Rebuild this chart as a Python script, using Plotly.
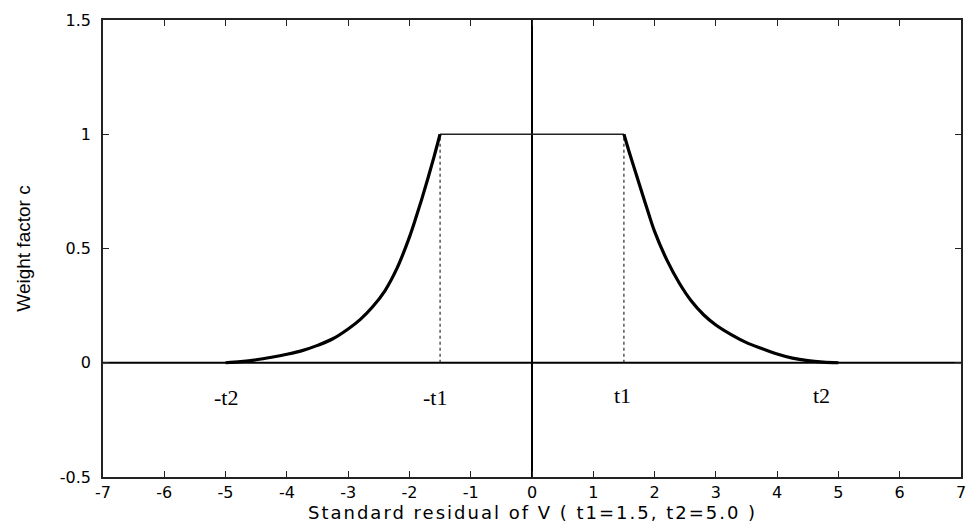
import plotly.graph_objects as go

# Thresholds of the weight function
t1 = 1.5
t2 = 5.0

# Weight factor c read along the descending branch (v > t1)
v_right = [1.5, 1.6, 1.7, 1.8, 1.9, 2.0, 2.2, 2.4, 2.6, 2.8, 3.0, 3.25, 3.5, 3.75, 4.0, 4.25, 4.5, 4.75, 5.0]
c_right = [1.0, 0.91, 0.825, 0.74, 0.655, 0.575, 0.45, 0.35, 0.27, 0.21, 0.165, 0.123, 0.088, 0.062, 0.038, 0.02, 0.009, 0.003, 0.0]

# Weight factor c along the rising branch (v < -t1)
v_left = [-5.0, -4.75, -4.5, -4.25, -4.0, -3.75, -3.5, -3.25, -3.0, -2.8, -2.6, -2.4, -2.2, -2.0, -1.9, -1.8, -1.7, -1.6, -1.5]
c_left = [0.0, 0.005, 0.013, 0.024, 0.037, 0.053, 0.076, 0.105, 0.148, 0.19, 0.245, 0.315, 0.415, 0.55, 0.63, 0.715, 0.805, 0.9, 1.0]

# Axis extents and ticks
x_range = [-7, 7]
y_range = [-0.5, 1.5]
x_ticks = [-7, -6, -5, -4, -3, -2, -1, 0, 1, 2, 3, 4, 5, 6, 7]
x_tick_text = ["-7", "-6", "-5", "-4", "-3", "-2", "-1", "0", "1", "2", "3", "4", "5", "6", "7"]
y_ticks = [-0.5, 0, 0.5, 1, 1.5]
y_tick_text = ["-0.5", "0", "0.5", "1", "1.5"]

# Threshold markers drawn under the zero line
mark_text = ["-t2", "-t1", "t1", "t2"]
mark_x = [-5.0, -1.575, 1.47, 4.73]
mark_y = [-0.15, -0.15, -0.145, -0.145]

fig = go.Figure()

# Zero line and the vertical c-axis through the origin
fig.add_trace(go.Scatter(x=x_range, y=[0, 0], mode="lines",
                         line=dict(color="black", width=2), hoverinfo="skip"))
fig.add_trace(go.Scatter(x=[0, 0], y=y_range, mode="lines",
                         line=dict(color="black", width=2), hoverinfo="skip"))

# Dotted verticals at -t1 and t1
for xv in (-t1, t1):
    fig.add_trace(go.Scatter(x=[xv, xv], y=[0, 1], mode="lines",
                             line=dict(color="black", width=1, dash="dot"),
                             hoverinfo="skip"))

# Flat part c = 1 between -t1 and t1
fig.add_trace(go.Scatter(x=[-t1, t1], y=[1, 1], mode="lines",
                         line=dict(color="#222222", width=1.4)))

# Decaying branches
fig.add_trace(go.Scatter(x=v_left, y=c_left, mode="lines",
                         line=dict(color="black", width=3.2, shape="spline", smoothing=1.0)))
fig.add_trace(go.Scatter(x=v_right, y=c_right, mode="lines",
                         line=dict(color="black", width=3.2, shape="spline", smoothing=1.0)))

for txt, xv, yv in zip(mark_text, mark_x, mark_y):
    fig.add_annotation(x=xv, y=yv, text=txt, showarrow=False,
                       xanchor="center", yanchor="middle",
                       font=dict(family="Liberation Serif", size=22, color="black"))

# Axis titles placed in paper coordinates below / left of the frame
fig.add_annotation(x=0.5, y=-0.078, xref="paper", yref="paper",
                   text='<span style="letter-spacing:2px">Standard residual of V ( t1=1.5, t2=5.0 )</span>',
                   showarrow=False, xanchor="center", yanchor="middle",
                   font=dict(family="DejaVu Sans", size=18, color="black"))
fig.add_annotation(x=-0.093, y=0.5, xref="paper", yref="paper",
                   text="Weight factor c", textangle=-90,
                   showarrow=False, xanchor="center", yanchor="middle",
                   font=dict(family="Liberation Sans", size=19, color="black"))

axis_common = dict(
    showgrid=False, zeroline=False, showline=True, mirror="allticks",
    linecolor="#222222", linewidth=1.5,
    ticks="inside", ticklen=6, tickwidth=1, tickcolor="#222222",
    tickfont=dict(family="DejaVu Sans", size=16, color="black"),
)

fig.update_xaxes(range=x_range, tickmode="array", tickvals=x_ticks,
                 ticktext=x_tick_text, ticklabelstandoff=0,
                 ticklabeloverflow="allow", **axis_common)
fig.update_yaxes(range=y_range, tickmode="array", tickvals=y_ticks,
                 ticktext=y_tick_text, ticklabelstandoff=7,
                 ticklabeloverflow="allow", **axis_common)

fig.update_layout(
    width=969, height=525,
    margin=dict(l=103, r=3, t=20, b=48),
    paper_bgcolor="white", plot_bgcolor="white",
    showlegend=False,
)

fig.write_html("out.html")
